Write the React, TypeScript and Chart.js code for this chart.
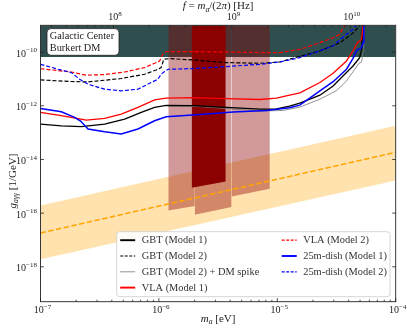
import React, { useEffect, useRef } from "react";
import { Chart, registerables } from "chart.js";
Chart.register(...registerables);

// ---- axes ----
const X_MIN = 1e-7;
const X_MAX = 1e-4;
const Y_MIN = 5e-20;
const Y_MAX = 1e-9;
const H_EVS = 4.135667696e-15; // f = m_a / (2π ħ) = m_a / h
const xTickExps = [-7, -6, -5, -4];
const yTickExps = [-18, -16, -14, -12, -10];
const topTickExps = [8, 9, 10];

// ---- curves (m_a [eV], g [1/GeV]) ----
const gbt1M = [1.0e-7, 1.5e-7, 2.21e-7, 3.48e-7, 5.14e-7, 7.09e-7, 9.2e-7, 1.15e-6, 1.95e-6, 3.72e-6, 7.12e-6, 9.85e-6, 1.27e-5, 1.55e-5, 2.29e-5, 2.96e-5, 3.71e-5, 4.36e-5, 4.71e-5, 4.96e-5, 5.16e-5, 5.28e-5];
const gbt1G = [2.09e-13, 1.8e-13, 1.66e-13, 2.09e-13, 3.2e-13, 5.66e-13, 8.69e-13, 1.03e-12, 1.01e-12, 8.77e-13, 7.52e-13, 7.6e-13, 9.71e-13, 1.26e-12, 2.49e-12, 5.51e-12, 1.5e-11, 3.05e-11, 4.68e-11, 6.25e-11, 1.27e-10, 2e-9];

const gbt2M = [1e-7, 1.82e-7, 2.52e-7, 4.81e-7, 7.57e-7, 9.49e-7, 1.045e-6, 1.1e-6, 1.24e-6, 1.95e-6, 3.72e-6, 7.12e-6, 1.05e-5, 1.55e-5, 2.29e-5, 3.37e-5, 4.23e-5, 4.81e-5, 5.14e-5];
const gbt2G = [9.2e-12, 8.03e-12, 7.76e-12, 1.04e-11, 1.5e-11, 2.16e-11, 2.66e-11, 5.41e-11, 5.74e-11, 5.09e-11, 4.07e-11, 3.84e-11, 4.29e-11, 6.98e-11, 1.1e-10, 2.25e-10, 4.58e-10, 8.13e-10, 1.24e-9];

const spikeM = [1.2e-6, 2.22e-6, 4.24e-6, 7.12e-6, 1.12e-5, 1.55e-5, 2.29e-5, 3.16e-5, 3.84e-5, 4.51e-5, 4.9e-5, 5.14e-5, 5.24e-5, 5.3e-5, 5.37e-5];
const spikeG = [9.71e-13, 9.31e-13, 7.52e-13, 6.34e-13, 6.73e-13, 8.92e-13, 1.77e-12, 3.66e-12, 8.45e-12, 2.3e-11, 3.84e-11, 4.29e-11, 7.16e-11, 1.1e-10, 2e-9];

const vla1M = [1e-7, 1.41e-7, 1.82e-7, 2.44e-7, 3.48e-7, 4.81e-7, 6.65e-7, 9.2e-7, 1.15e-6, 1.95e-6, 3.72e-6, 7.12e-6, 9.85e-6, 1.27e-5, 1.55e-5, 2.29e-5, 2.96e-5, 3.84e-5, 4.36e-5, 4.66e-5, 4.81e-5, 4.96e-5, 5.14e-5, 5.24e-5, 5.32e-5];
const vla1G = [5.66e-13, 4.5e-13, 3.7e-13, 2.94e-13, 3.4e-13, 4.9e-13, 8.69e-13, 1.66e-12, 1.92e-12, 2.0e-12, 1.85e-12, 1.72e-12, 1.92e-12, 2.49e-12, 3.03e-12, 7.37e-12, 1.63e-11, 4.68e-11, 1.1e-10, 1.95e-10, 2.37e-10, 2.58e-10, 2.99e-10, 5.3e-10, 2e-9];

const vla2M = [1e-7, 1.82e-7, 2.44e-7, 3.48e-7, 5.14e-7, 7.57e-7, 9.2e-7, 1.014e-6, 1.08e-6, 1.15e-6, 2.22e-6, 8.11e-6, 1.05e-5, 1.55e-5, 2.29e-5, 2.96e-5, 3.37e-5, 3.59e-5, 3.96e-5];
const vla2G = [2.4e-11, 1.82e-11, 1.38e-11, 1.46e-11, 1.82e-11, 2.66e-11, 3.84e-11, 4.68e-11, 8.28e-11, 1.04e-10, 1.04e-10, 9.58e-11, 9.58e-11, 1.27e-10, 2.25e-10, 3.45e-10, 4.58e-10, 8.13e-10, 1.2e-9];

const dish1M = [1e-7, 1.5e-7, 1.94e-7, 2.18e-7, 2.52e-7, 3.48e-7, 4.81e-7, 6.65e-7, 9.2e-7, 1.15e-6, 2.22e-6, 4.24e-6, 8.11e-6, 1.27e-5, 1.55e-5, 2.29e-5, 2.96e-5, 3.84e-5, 4.36e-5, 4.66e-5, 4.81e-5, 5.03e-5, 5.14e-5, 5.3e-5, 5.37e-5, 5.39e-5];
const dish1G = [7.98e-13, 5.97e-13, 3.7e-13, 2.69e-13, 1.36e-13, 1.08e-13, 8.87e-14, 1.36e-13, 2.77e-13, 3.89e-13, 4.78e-13, 5.82e-13, 6.73e-13, 8.4e-13, 1.06e-12, 3.6e-12, 7.89e-12, 2.3e-11, 5.88e-11, 1.1e-10, 1.27e-10, 1.35e-10, 1.47e-10, 2.25e-10, 7.03e-10, 2e-9];

const dish2M = [1e-7, 1.41e-7, 1.82e-7, 2.14e-7, 2.52e-7, 3.48e-7, 4.81e-7, 6.65e-7, 8.61e-7, 9.81e-7, 1.045e-6, 1.116e-6, 1.2e-6, 1.95e-6, 3.72e-6, 7.12e-6, 1.05e-5, 1.55e-5, 2.29e-5, 2.96e-5, 3.37e-5, 3.84e-5, 4.36e-5, 4.81e-5];
const dish2G = [3.52e-11, 2.3e-11, 1.73e-11, 9.78e-12, 6.37e-12, 4.16e-12, 3.6e-12, 4.16e-12, 7.37e-12, 9.78e-12, 1.5e-11, 1.9e-11, 2.3e-11, 2.44e-11, 2.9e-11, 3.52e-11, 4.29e-11, 6.25e-11, 1.12e-10, 1.71e-10, 2.86e-10, 4.58e-10, 7.03e-10, 1.24e-9];

// ---- shaded regions ----
const castM = [1e-7, 1e-4];
const castG = [6.6e-11, 6.6e-11];

const blockAM = [1.2e-6, 2.01e-6];
const blockAG = [1.26e-16, 1.85e-16];
const blockBM = [2.01e-6, 4.11e-6];
const blockBG = [8.7e-17, 1.68e-16];
const blockCM = [4.11e-6, 8.65e-6];
const blockCG = [4.16e-16, 8.04e-16];
const darkM = [1.89e-6, 3.67e-6];
const darkG = [8.75e-16, 1.5e-15];

const bandM = [1e-7, 1e-4];
const bandUpper = [1.93e-16, 1.8e-13];
const bandCenter = [1.82e-17, 1.85e-14];
const bandLower = [1.91e-18, 1.64e-15];

const legendLabels = [
  "GBT (Model 1)",
  "GBT (Model 2)",
  "GBT (Model 2) + DM spike",
  "VLA (Model 1)",
  "VLA (Model 2)",
  "25m-dish (Model 1)",
  "25m-dish (Model 2)",
];
const boxLines = ["Galactic Center", "Burkert DM"];

const FONT = '"Liberation Serif", "DejaVu Serif", serif';
const fnt = (size: number, it = false) => `${it ? "italic " : ""}${size}px ${FONT}`;

type Seg = { t: string; it?: boolean; sub?: boolean; sup?: boolean };

function drawRich(ctx: CanvasRenderingContext2D, segs: Seg[], x: number, y: number, size: number, align: "left" | "center" | "right") {
  const ws: number[] = [];
  let w = 0;
  for (const s of segs) {
    const sz = s.sub || s.sup ? size * 0.7 : size;
    ctx.font = fnt(sz, s.it);
    const m = ctx.measureText(s.t).width;
    ws.push(m);
    w += m;
  }
  let cx = align === "center" ? x - w / 2 : align === "right" ? x - w : x;
  ctx.textAlign = "left";
  ctx.textBaseline = "alphabetic";
  segs.forEach((s, i) => {
    const sz = s.sub || s.sup ? size * 0.7 : size;
    const dy = s.sub ? size * 0.22 : s.sup ? -size * 0.42 : 0;
    ctx.font = fnt(sz, s.it);
    ctx.fillText(s.t, cx, y + dy);
    cx += ws[i];
  });
}

const pts = (m: number[], g: number[]) => m.map((x, i) => ({ x, y: g[i] }));

const styles = [
  { color: "#000000", width: 1.3, dash: [] as number[], legendWidth: 1.9 },
  { color: "#000000", width: 1.2, dash: [4, 2], legendWidth: 1.2 },
  { color: "#777777", width: 0.8, dash: [] as number[], legendWidth: 0.8 },
  { color: "#ff0000", width: 1.3, dash: [] as number[], legendWidth: 1.9 },
  { color: "#ff0000", width: 1.2, dash: [4, 2], legendWidth: 1.2 },
  { color: "#0000ff", width: 1.5, dash: [] as number[], legendWidth: 1.9 },
  { color: "#0000ff", width: 1.2, dash: [4, 2], legendWidth: 1.2 },
];

const overlay = {
  id: "overlay",
  afterDraw(chart: any) {
    const ctx: CanvasRenderingContext2D = chart.ctx;
    const { left, right, top, bottom } = chart.chartArea;
    const xs = chart.scales.x;
    const ys = chart.scales.y;
    const x2 = chart.scales.x2;
    ctx.save();
    // frame
    ctx.strokeStyle = "#222";
    ctx.lineWidth = 0.9;
    ctx.setLineDash([]);
    ctx.strokeRect(left, top, right - left, bottom - top);
    const line = (a: number, b: number, c: number, d: number) => {
      ctx.beginPath();
      ctx.moveTo(a, b);
      ctx.lineTo(c, d);
      ctx.stroke();
    };
    ctx.lineWidth = 0.8;
    // bottom ticks
    for (let e = -7; e <= -4; e++) {
      for (let k = 1; k <= 9; k++) {
        const v = k * Math.pow(10, e);
        if (v > X_MAX * 1.0001) break;
        const px = xs.getPixelForValue(v);
        const len = k === 1 ? 3.5 : 2;
        line(px, bottom, px, bottom - len);
      }
    }
    // top ticks
    for (let e = 7; e <= 10; e++) {
      for (let k = 1; k <= 9; k++) {
        const v = k * Math.pow(10, e);
        if (v < x2.min * 0.9999 || v > x2.max * 1.0001) continue;
        const px = x2.getPixelForValue(v);
        const len = k === 1 ? 3.5 : 2;
        line(px, top, px, top + len);
      }
    }
    // y ticks
    for (const e of yTickExps) {
      const py = ys.getPixelForValue(Math.pow(10, e));
      line(left, py, left + 3.5, py);
      line(right, py, right - 3.5, py);
    }
    // tick labels
    ctx.fillStyle = "#222";
    for (const e of xTickExps) {
      const px = xs.getPixelForValue(Math.pow(10, e));
      drawRich(ctx, [{ t: "10" }, { t: "\u2212" + -e, sup: true }], px + 2, bottom + 11, 10, "center");
    }
    for (const e of yTickExps) {
      const py = ys.getPixelForValue(Math.pow(10, e));
      drawRich(ctx, [{ t: "10" }, { t: "\u2212" + -e, sup: true }], left - 3.5, py + 4.5, 10, "right");
    }
    for (const e of topTickExps) {
      const px = x2.getPixelForValue(Math.pow(10, e));
      drawRich(ctx, [{ t: "10" }, { t: String(e), sup: true }], px + 1.5, top - 5, 10, "center");
    }
    // axis titles
    const cxm = (left + right) / 2;
    drawRich(ctx, [{ t: "m", it: true }, { t: "a", it: true, sub: true }, { t: " [eV]" }], cxm, bottom + 20, 11, "center");
    drawRich(
      ctx,
      [{ t: "f", it: true }, { t: " = " }, { t: "m", it: true }, { t: "a", it: true, sub: true }, { t: "/(2" }, { t: "\u03c0", it: true }, { t: ") [Hz]" }],
      cxm,
      top - 16,
      11,
      "center"
    );
    ctx.save();
    ctx.translate(left - 28.5, 181);
    ctx.rotate(-Math.PI / 2);
    drawRich(ctx, [{ t: "g", it: true }, { t: "a\u03b3\u03b3", it: true, sub: true }, { t: " [1/GeV]" }], 0, 3.5, 11, "center");
    ctx.restore();

    // text box
    const bx = left + 6.5;
    const by = top + 3.3;
    ctx.beginPath();
    ctx.roundRect(bx, by, 72, 26.7, 4);
    ctx.fillStyle = "#ffffff";
    ctx.fill();
    ctx.strokeStyle = "#222";
    ctx.lineWidth = 0.8;
    ctx.stroke();
    ctx.fillStyle = "#222";
    ctx.font = fnt(10.3);
    ctx.textAlign = "left";
    ctx.textBaseline = "alphabetic";
    ctx.fillText(boxLines[0], bx + 2.8, by + 10.2);
    ctx.fillText(boxLines[1], bx + 2.8, by + 22.5);

    // legend
    const lx = right - 279;
    const ly = bottom - 70;
    ctx.beginPath();
    ctx.roundRect(lx, ly, 273.3, 65, 3);
    ctx.fillStyle = "rgba(255,255,255,0.9)";
    ctx.fill();
    ctx.strokeStyle = "#cccccc";
    ctx.lineWidth = 0.8;
    ctx.stroke();
    ctx.font = fnt(10.4);
    ctx.textBaseline = "middle";
    legendLabels.forEach((lab, i) => {
      const col = i < 4 ? 0 : 1;
      const row = i < 4 ? i : i - 4;
      const sx = col === 0 ? lx + 3.5 : lx + 165;
      const yy = ly + 8.5 + row * 15.8;
      const st = styles[i];
      ctx.strokeStyle = st.color;
      ctx.lineWidth = st.legendWidth;
      ctx.setLineDash(st.dash.length ? [3, 1.5] : []);
      line(sx, yy, sx + 15, yy);
      ctx.setLineDash([]);
      ctx.fillStyle = "#333";
      ctx.fillText(lab, sx + 21.5, yy + 0.5);
    });
    ctx.restore();
  },
};

export default function App() {
  const ref = useRef<HTMLCanvasElement>(null);
  useEffect(() => {
    document.body.style.margin = "0";
    const curve = (m: number[], g: number[], i: number, order: number) => ({
      data: pts(m, g),
      borderColor: styles[i].color,
      borderWidth: styles[i].width,
      borderDash: styles[i].dash,
      pointRadius: 0,
      fill: false,
      tension: 0,
      order,
    });
    const datasets: any[] = [
      curve(dish1M, dish1G, 5, 1),
      curve(dish2M, dish2G, 6, 2),
      curve(vla1M, vla1G, 3, 3),
      curve(vla2M, vla2G, 4, 4),
      curve(gbt1M, gbt1G, 0, 5),
      curve(gbt2M, gbt2G, 1, 6),
      curve(spikeM, spikeG, 2, 7),
      {
        data: pts(bandM, bandCenter),
        borderColor: "#ffa500",
        borderWidth: 1.5,
        borderDash: [5.5, 2.4],
        pointRadius: 0,
        fill: false,
        order: 8,
      },
      { data: pts(darkM, darkG), borderWidth: 0, pointRadius: 0, fill: "end", backgroundColor: "#8b0000", order: 20 },
      { data: pts(blockAM, blockAG), borderWidth: 0, pointRadius: 0, fill: "end", backgroundColor: "rgba(139,0,0,0.4)", order: 21 },
      { data: pts(blockBM, blockBG), borderWidth: 0, pointRadius: 0, fill: "end", backgroundColor: "rgba(139,0,0,0.4)", order: 21 },
      { data: pts(blockCM, blockCG), borderWidth: 0, pointRadius: 0, fill: "end", backgroundColor: "rgba(139,0,0,0.4)", order: 21 },
      { data: pts(bandM, bandLower), borderWidth: 0, pointRadius: 0, fill: false, order: 30 },
      { data: pts(bandM, bandUpper), borderWidth: 0, pointRadius: 0, fill: 12, backgroundColor: "rgba(255,165,0,0.32)", order: 30 },
      { data: pts(castM, castG), borderWidth: 0, pointRadius: 0, fill: "end", backgroundColor: "#2f4f4f", order: 40 },
    ];
    const chart = new Chart(ref.current!, {
      type: "line",
      data: { datasets },
      options: {
        responsive: false,
        devicePixelRatio: 1,
        animation: false,
        events: [],
        layout: { padding: { left: 40.5, right: 11.3, top: 25.3, bottom: 29.3 } },
        plugins: { legend: { display: false }, tooltip: { enabled: false } },
        scales: {
          x: { type: "logarithmic", min: X_MIN, max: X_MAX, display: false },
          y: { type: "logarithmic", min: Y_MIN, max: Y_MAX, display: false },
          x2: { type: "logarithmic", axis: "x", position: "top", min: X_MIN / H_EVS, max: X_MAX / H_EVS, display: false },
        },
      } as any,
      plugins: [overlay],
    });
    return () => chart.destroy();
  }, []);
  return (
    <div style={{ width: 407, height: 331 }}>
      <canvas ref={ref} width={407} height={331} style={{ display: "block", width: 407, height: 331 }} />
    </div>
  );
}
